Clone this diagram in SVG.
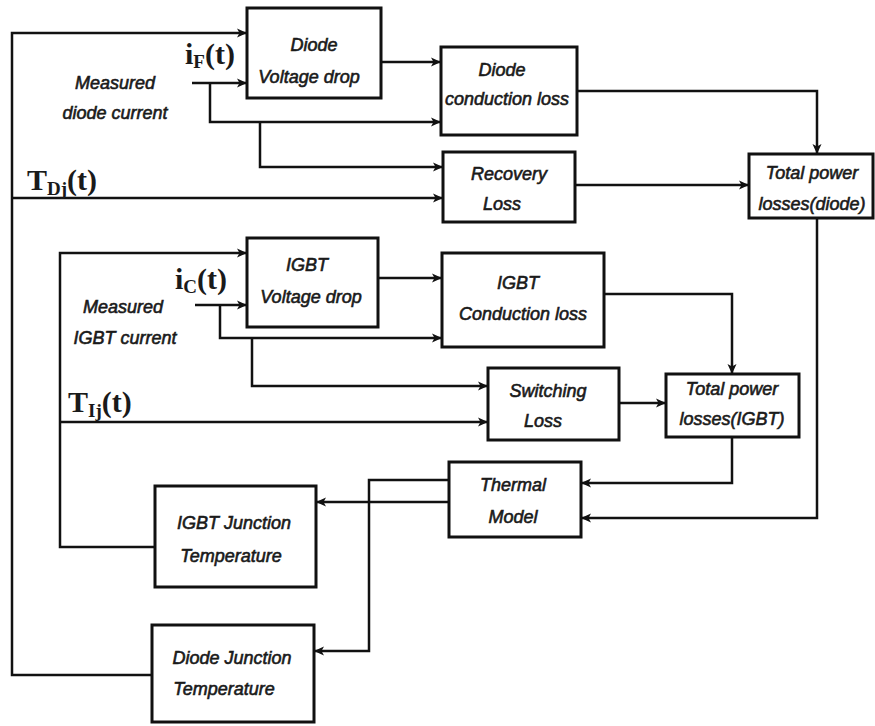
<svg xmlns="http://www.w3.org/2000/svg" width="875" height="726" viewBox="0 0 875 726">
<style>
.box{fill:#fff;stroke:#111;stroke-width:3}
.lbl{font-family:"Liberation Sans",Arial,sans-serif;font-style:italic;font-size:18px;fill:#1a1a1a;text-anchor:middle;stroke:#1a1a1a;stroke-width:0.6}
.math{font-family:"Liberation Serif","Times New Roman",serif;font-weight:bold;fill:#1a1a1a}
.con{fill:none;stroke:#111;stroke-width:2.5;marker-end:url(#ah)}
</style>
<defs>
<marker id="ah" markerUnits="userSpaceOnUse" markerWidth="11" markerHeight="11" refX="10" refY="5.5" orient="auto">
<path d="M0,1 L10,5.5 L0,10 L2.5,5.5 z" fill="#111"/>
</marker>
</defs>
<rect width="875" height="726" fill="#fff"/>
<g id="connectors">
<path class="con" d="M152,675 H12 V33 H247"/>
<path class="con" d="M192,83 H247"/>
<path class="con" d="M210,83 V122 H441"/>
<path class="con" d="M260,122 V167 H443"/>
<path class="con" d="M12,198 H443"/>
<path class="con" d="M381,62 H441"/>
<path class="con" d="M577,91 H817 V154"/>
<path class="con" d="M575,185 H749"/>
<path class="con" d="M817,218 V518 H581"/>
<path class="con" d="M155,547 H60 V253 H247"/>
<path class="con" d="M195,305 H247"/>
<path class="con" d="M220,305 V338 H442"/>
<path class="con" d="M252,338 V386 H488"/>
<path class="con" d="M60,422 H488"/>
<path class="con" d="M378,278 H442"/>
<path class="con" d="M604,294 H732 V374"/>
<path class="con" d="M619,403 H666"/>
<path class="con" d="M732,437 V483 H581"/>
<path class="con" d="M449,502 H316"/>
<path class="con" d="M449,480 H369 V651 H314"/>
</g>
<g id="diode-voltage-drop">
<rect class="box" x="247" y="8" width="134" height="90"/>
<text class="lbl" x="314" y="51">Diode</text>
<text class="lbl" x="309" y="83">Voltage drop</text>
</g>
<g id="diode-conduction-loss">
<rect class="box" x="441" y="47" width="136" height="88"/>
<text class="lbl" x="502" y="76">Diode</text>
<text class="lbl" x="507" y="105">conduction loss</text>
</g>
<g id="recovery-loss">
<rect class="box" x="443" y="152" width="132" height="70"/>
<text class="lbl" x="509" y="180">Recovery</text>
<text class="lbl" x="502" y="210">Loss</text>
</g>
<g id="total-diode">
<rect class="box" x="749" y="154" width="124" height="64"/>
<text class="lbl" x="812" y="179">Total power</text>
<text class="lbl" x="812" y="210">losses(diode)</text>
</g>
<g id="igbt-voltage-drop">
<rect class="box" x="247" y="238" width="131" height="89"/>
<text class="lbl" x="307" y="271">IGBT</text>
<text class="lbl" x="311" y="303">Voltage drop</text>
</g>
<g id="igbt-conduction-loss">
<rect class="box" x="442" y="253" width="162" height="94"/>
<text class="lbl" x="518" y="289">IGBT</text>
<text class="lbl" x="523" y="320">Conduction loss</text>
</g>
<g id="switching-loss">
<rect class="box" x="488" y="368" width="131" height="72"/>
<text class="lbl" x="548" y="397">Switching</text>
<text class="lbl" x="543" y="427">Loss</text>
</g>
<g id="total-igbt">
<rect class="box" x="666" y="374" width="133" height="63"/>
<text class="lbl" x="732" y="395">Total power</text>
<text class="lbl" x="732" y="425">losses(IGBT)</text>
</g>
<g id="thermal-model">
<rect class="box" x="449" y="462" width="132" height="75"/>
<text class="lbl" x="513" y="491">Thermal</text>
<text class="lbl" x="513" y="523">Model</text>
</g>
<g id="igbt-junction">
<rect class="box" x="155" y="486" width="161" height="101"/>
<text class="lbl" x="234" y="529">IGBT Junction</text>
<text class="lbl" x="231" y="562">Temperature</text>
</g>
<g id="diode-junction">
<rect class="box" x="152" y="625" width="162" height="97"/>
<text class="lbl" x="232" y="664">Diode Junction</text>
<text class="lbl" x="224" y="695">Temperature</text>
</g>
<g id="labels">
<text class="lbl" x="115" y="89">Measured</text>
<text class="lbl" x="115" y="119">diode current</text>
<text class="lbl" x="123" y="313">Measured</text>
<text class="lbl" x="125" y="344">IGBT current</text>
<text class="math" x="185" y="64" font-size="30">i<tspan font-size="19" dy="4">F</tspan><tspan dy="-4">(t)</tspan></text>
<text class="math" x="27" y="190" font-size="30">T<tspan font-size="19" dy="5">Dj</tspan><tspan dy="-5">(t)</tspan></text>
<text class="math" x="175" y="289" font-size="30">i<tspan font-size="19" dy="4">C</tspan><tspan dy="-4">(t)</tspan></text>
<text class="math" x="68" y="412" font-size="30">T<tspan font-size="19" dy="5">Ij</tspan><tspan dy="-5">(t)</tspan></text>
</g>
</svg>
